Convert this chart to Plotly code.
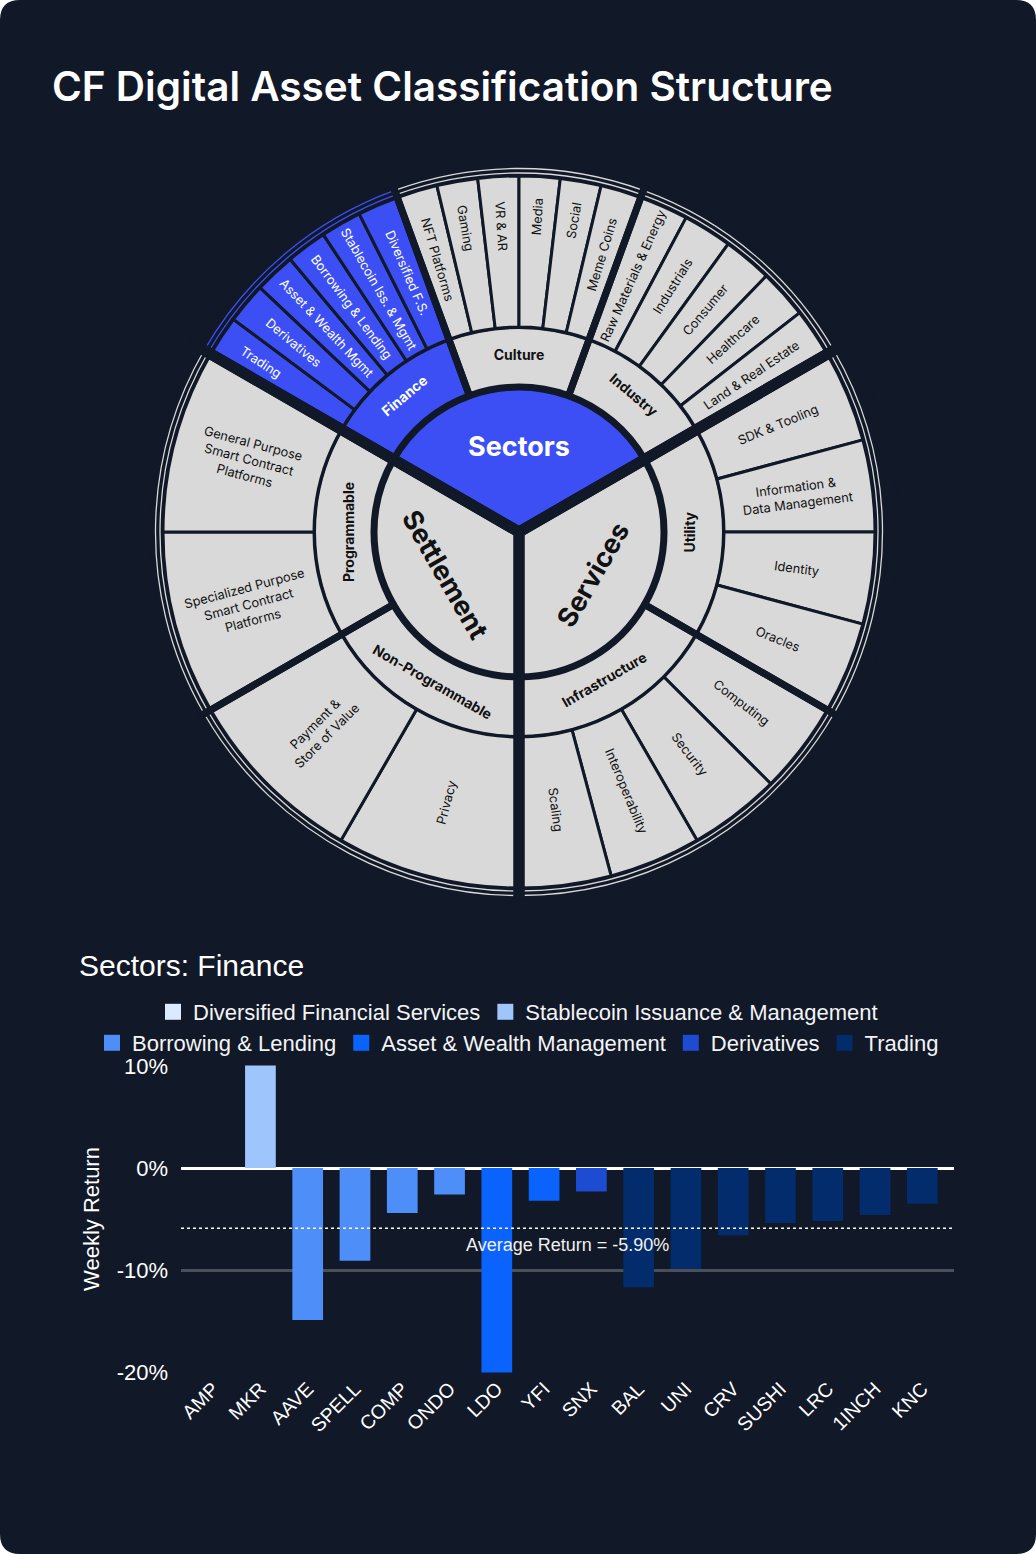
import plotly.graph_objects as go

BG = "#111827"
GRAY = "#d9d9d9"
BLUE = "#3b4ff5"
INK = "#111111"

# --- classification structure (clockwise, starting at 10 o'clock) ---
sectors = ["Sectors", "Services", "Settlement"]
sector_deg = [120, 120, 120]

groups = ["Finance", "Culture", "Industry", "Utility", "Infrastructure",
          "Non-Programmable", "Programmable"]
group_deg = [40, 40, 40, 60, 60, 60, 60]

finance_leaves = ["Trading", "Derivatives", "Asset & Wealth Mgmt", "Borrowing & Lending",
                  "Stablecoin Iss. & Mgmt", "Diversified F.S."]
culture_leaves = ["NFT Platforms", "Gaming", "VR & AR", "Media", "Social", "Meme Coins"]
industry_leaves = ["Raw Materials & Energy", "Industrials", "Consumer", "Healthcare",
                   "Land & Real Estate"]
utility_leaves = ["SDK & Tooling", "Information &<br>Data Management", "Identity", "Oracles"]
infra_leaves = ["Computing", "Security", "Interoperability", "Scaling"]
nonprog_leaves = ["Privacy", "Payment &<br>Store of Value"]
prog_leaves = ["Specialized Purpose<br>Smart Contract<br>Platforms",
               "General Purpose<br>Smart Contract<br>Platforms"]
leaf_lists = [finance_leaves, culture_leaves, industry_leaves, utility_leaves,
              infra_leaves, nonprog_leaves, prog_leaves]

# --- weekly returns, Finance sector ---
tickers = ["AMP", "MKR", "AAVE", "SPELL", "COMP", "ONDO", "LDO", "YFI",
           "SNX", "BAL", "UNI", "CRV", "SUSHI", "LRC", "1INCH", "KNC"]
returns = [0.0, 10.5, -14.9, -9.1, -4.4, -2.6, -21.5, -3.2,
           -2.3, -11.7, -9.9, -6.6, -5.4, -5.2, -4.6, -3.5]
subsectors = ["Diversified Financial Services", "Stablecoin Issuance & Management",
              "Borrowing & Lending", "Borrowing & Lending", "Borrowing & Lending",
              "Borrowing & Lending", "Asset & Wealth Management", "Asset & Wealth Management",
              "Derivatives", "Trading", "Trading", "Trading", "Trading", "Trading",
              "Trading", "Trading"]
subsector_order = ["Diversified Financial Services", "Stablecoin Issuance & Management",
                   "Borrowing & Lending", "Asset & Wealth Management", "Derivatives", "Trading"]
subsector_colors = ["#dbeafe", "#9ec5fc", "#4d8ef8", "#0b63fe", "#1d4bd1", "#022c6b"]
ytick_vals = [-20, -10, 0, 10]
ytick_text = ["-20%", "-10%", "0%", "10%"]

W, H = 1036, 1554
CX, CY = 519, H - 532   # sunburst centre in px (y from bottom)


def dom(r):
    return dict(x=[(CX - r) / W, (CX + r) / W], y=[(CY - r) / H, (CY + r) / H])


fig = go.Figure()

common = dict(sort=False, direction="clockwise", rotation=-60, showlegend=False,
              hoverinfo="skip", textposition="inside")

# centre
fig.add_trace(go.Pie(
    values=sector_deg, labels=sectors, domain=dom(145),
    text=["<b>%s</b>" % s for s in sectors], textinfo="text",
    insidetextorientation="tangential",
    textfont=dict(family="Inter", size=27, color=["white", INK, INK]),
    marker=dict(colors=[BLUE, GRAY, GRAY], line=dict(color=BG, width=5)),
    **common))

# middle ring
fig.add_trace(go.Pie(
    values=group_deg, labels=groups, domain=dom(205), hole=145 / 205,
    text=["<b>%s</b>" % g for g in groups], textinfo="text",
    insidetextorientation="tangential",
    textfont=dict(family="Inter", size=14,
                  color=["white" if g == "Finance" else INK for g in groups]),
    marker=dict(colors=[BLUE if g == "Finance" else GRAY for g in groups],
                line=dict(color=BG, width=4)),
    **common))

# outer ring (leaves)
leaf_text, leaf_val, leaf_col, leaf_font = [], [], [], []
for g, deg, lst in zip(groups, group_deg, leaf_lists):
    for name in lst:
        leaf_text.append(name)
        leaf_val.append(deg / len(lst))
        leaf_col.append(BLUE if g == "Finance" else GRAY)
        leaf_font.append("white" if g == "Finance" else INK)

fig.add_trace(go.Pie(
    values=leaf_val, labels=[t.replace("<br>", " ") for t in leaf_text],
    domain=dom(356), hole=205 / 356,
    text=leaf_text, textinfo="text", insidetextorientation="radial",
    textfont=dict(family="Inter", size=12.8, color=leaf_font),
    marker=dict(colors=leaf_col, line=dict(color=BG, width=3)),
    **common))

# outer double border ring
fig.add_trace(go.Pie(
    values=[40, 80, 120, 120], labels=["b1", "b2", "b3", "b4"], domain=dom(363.5),
    hole=359 / 363.5, textinfo="none",
    marker=dict(colors=[BG] * 4, line=dict(color=[BLUE, GRAY, GRAY, GRAY], width=1.3)),
    **common))

# thicker separators between groups and between sectors
fig.add_trace(go.Pie(
    values=group_deg, labels=["g%d" % i for i in range(len(groups))], domain=dom(374),
    hole=145 / 374, textinfo="none",
    marker=dict(colors=["rgba(0,0,0,0)"] * len(groups), line=dict(color=BG, width=7)),
    **common))
fig.add_trace(go.Pie(
    values=sector_deg, labels=["s1", "s2", "s3"], domain=dom(374), textinfo="none",
    marker=dict(colors=["rgba(0,0,0,0)"] * 3, line=dict(color=BG, width=11)),
    **common))

# --- bar chart ---
for name, col in zip(subsector_order, subsector_colors):
    xs = [t for t, s in zip(tickers, subsectors) if s == name]
    ys = [v for v, s in zip(returns, subsectors) if s == name]
    fig.add_trace(go.Bar(x=xs, y=ys, marker=dict(color=col, line=dict(width=0)),
                         width=0.65, showlegend=False, name=name))
    fig.add_trace(go.Scatter(
        x=[None], y=[None], mode="markers", name=name,
        marker=dict(symbol="square", size=18, color=col),
        legend="legend" if name in subsector_order[:2] else "legend2"))

avg = sum(returns) / len(returns)

fig.add_shape(type="line", xref="x domain", x0=0, x1=1, yref="y", y0=avg, y1=avg,
              line=dict(color="white", width=1.5, dash="dot"))
fig.add_annotation(xref="x domain", x=0.5, yref="y", y=avg, yshift=-17,
                   yanchor="middle", xanchor="center",
                   text="Average Return = %.2f%%" % avg, showarrow=False,
                   font=dict(family="Liberation Sans", size=18, color="#f1f1f1"))

# card background with rounded corners
rx, ry = 20 / W, 20 / H
fig.add_shape(
    type="path", xref="paper", yref="paper", layer="below", line=dict(width=0),
    fillcolor=BG,
    path=(f"M {rx},0 L {1 - rx},0 Q 1,0 1,{ry} L 1,{1 - ry} Q 1,1 {1 - rx},1 "
          f"L {rx},1 Q 0,1 0,{1 - ry} L 0,{ry} Q 0,0 {rx},0 Z"))

fig.add_annotation(xref="paper", yref="paper", x=50 / W, y=1 - 86 / H,
                   xanchor="left", yanchor="middle",
                   text="CF Digital Asset Classification Structure", showarrow=False,
                   font=dict(family="Inter", size=40.5, color="white", weight=600))
fig.add_annotation(xref="paper", yref="paper", x=77 / W, y=1 - 965 / H,
                   xanchor="left", yanchor="middle",
                   text="Sectors: Finance", showarrow=False,
                   font=dict(family="Liberation Sans", size=30, color="white"))

legend_style = dict(orientation="h", xanchor="center", x=0.5, yanchor="middle",
                    bgcolor="rgba(0,0,0,0)", itemsizing="trace",
                    font=dict(family="Liberation Sans", size=22, color="#f3f4f6"))

fig.update_layout(
    width=W, height=H,
    margin=dict(l=0, r=0, t=0, b=0, pad=0, autoexpand=False),
    paper_bgcolor="white", plot_bgcolor="rgba(0,0,0,0)",
    barmode="relative",
    legend=dict(y=1 - 1012 / H, **legend_style),
    legend2=dict(y=1 - 1043 / H, **legend_style),
    xaxis=dict(domain=[181 / W, 954 / W], type="category",
               categoryorder="array", categoryarray=tickers,
               range=[-0.68, 15.67], showgrid=False, zeroline=False, showline=False,
               tickangle=-45, ticks="", automargin=False,
               tickfont=dict(family="Liberation Sans", size=19.5, color="white")),
    yaxis=dict(domain=[1 - 1372.6 / H, 1 - 1065.4 / H], range=[-20.06, 10.06],
               tickvals=ytick_vals, ticktext=ytick_text,
               gridcolor="#4a4f59", gridwidth=2.5,
               zeroline=True, zerolinecolor="white", zerolinewidth=2.5,
               showline=False, ticklabelstandoff=12, automargin=False,
               tickfont=dict(family="Liberation Sans", size=22, color="white"),
               title=dict(text="Weekly Return", standoff=10,
                          font=dict(family="Liberation Sans", size=22, color="white"))),
)

fig.write_html(
    "out.html",
    config={"displayModeBar": False},
    post_script=("document.documentElement.style.margin='0px';"
                 "document.body.style.margin='0px';"
                 "document.documentElement.style.overflow='hidden';"
                 "document.body.style.overflow='hidden';"),
)
